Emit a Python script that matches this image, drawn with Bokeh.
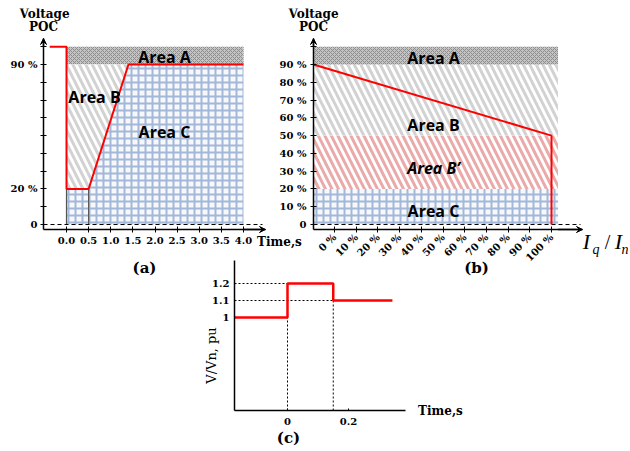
import math
from bokeh.plotting import figure
from bokeh.models import Label, Arrow, VeeHead, Range1d, FixedTicker
from bokeh.layouts import column
from bokeh.embed import file_html
from bokeh.resources import INLINE

# ---------------- data: panel (a) ----------------
a_time = [-0.38, 0.0, 0.0, 0.5, 1.4, 4.0]
a_volt = [100, 100, 20, 20, 90, 90]
a_end = 4.0
a_levels = [0, 20, 90, 100]
a_xticks = [0.0, 0.5, 1.0, 1.5, 2.0, 2.5, 3.0, 3.5, 4.0]
a_xlabels = ["0.0", "0.5", "1.0", "1.5", "2.0", "2.5", "3.0", "3.5", "4.0"]
a_yticks = [0, 10, 20, 30, 40, 50, 60, 70, 80, 90, 100]
a_ylabels = ["0", "", "20 %", "", "", "", "", "", "", "90 %", ""]

# ---------------- data: panel (b) ----------------
b_iq = [-9.7, 100, 100]
b_volt = [90, 50, 0]
b_end = 103
b_bands = [0, 20, 50, 90, 100]
b_xticks = [0, 10, 20, 30, 40, 50, 60, 70, 80, 90, 100]
b_xlabels = ["0 %", "10 %", "20 %", "30 %", "40 %", "50 %", "60 %", "70 %", "80 %", "90 %", "100 %"]
b_yticks = [0, 10, 20, 30, 40, 50, 60, 70, 80, 90, 100]
b_ylabels = ["0", "10 %", "20 %", "30 %", "40 %", "50 %", "60 %", "70 %", "80 %", "90 %", ""]

# ---------------- data: panel (c) ----------------
c_time = [-0.174, 0.0, 0.0, 0.15, 0.15, 0.344]
c_volt = [1.0, 1.0, 1.2, 1.2, 1.1, 1.1]
c_steps = [0.0, 0.15]
c_levels = [1.2, 1.1]
c_yticks = [1.0, 1.1, 1.2]
c_ylabels = ["1", "1.1", "1.2"]
c_xticks = [0.0, 0.2]
c_xlabels = ["0", "0.2"]

SERIF = "DejaVu Serif"
SANS = "Open Sans"
RED = "#ff0000"
GRID_BLUE = "#a3b7d8"


class Panel:
    """Maps window pixels to data units for a canvas whose frame fills the whole canvas."""

    def __init__(self, cx, cy, cw, ch, x0px, xppu, y0px, yppu):
        self.cx, self.cy, self.cw, self.ch = cx, cy, cw, ch
        self.x0px, self.xppu, self.y0px, self.yppu = x0px, xppu, y0px, yppu
        self.xr = ((cx - x0px) / xppu, (cx + cw - x0px) / xppu)
        self.yr = ((y0px - (cy + ch)) / yppu, (y0px - cy) / yppu)

    def x(self, px):
        return (px - self.x0px) / self.xppu

    def y(self, py):
        return (self.y0px - py) / self.yppu


def make_fig(P, margin):
    p = figure(x_range=Range1d(*P.xr), y_range=Range1d(*P.yr), width=P.cw, height=P.ch,
               min_border=0, output_backend="svg", toolbar_location=None, margin=margin)
    p.background_fill_alpha = 0
    p.border_fill_alpha = 0
    p.outline_line_color = None
    p.grid.visible = False
    for ax in (p.xaxis[0], p.yaxis[0]):
        ax.axis_line_width = 1.5
        ax.axis_line_color = "black"
        ax.major_tick_line_color = "black"
        ax.major_tick_line_width = 1
        ax.minor_tick_line_color = None
        ax.major_label_text_font = SERIF
        ax.major_label_text_font_style = "bold"
        ax.major_label_text_font_size = "10px"
        ax.major_label_text_color = "black"
    return p


def place_axes(p, x_loc, y_loc, x_bounds, y_bounds):
    p.xaxis[0].fixed_location = y_loc
    p.xaxis[0].bounds = x_bounds
    p.yaxis[0].fixed_location = x_loc
    p.yaxis[0].bounds = y_bounds


def set_ticks(axis, ticks, labels):
    axis.ticker = FixedTicker(ticks=ticks)
    axis.major_label_overrides = {t: s for t, s in zip(ticks, labels)}


def text(p, P, px, py, s, size, font=SERIF, style="bold", align="center", angle=0.0):
    p.add_layout(Label(x=P.x(px), y=P.y(py), text=s, text_font=font, text_font_style=style,
                       text_font_size=f"{size}px", text_align=align, text_baseline="middle",
                       text_color="black", angle=angle))


def arrows(p, x_loc, y_loc, x_top, y_top, x_from, y_from):
    p.add_layout(Arrow(end=VeeHead(size=6, line_color="black", fill_color="black", line_width=1),
                       x_start=x_loc, y_start=y_from, x_end=x_loc, y_end=y_top,
                       line_width=1.5, line_color="black"))
    p.add_layout(Arrow(end=VeeHead(size=6, line_color="black", fill_color="black", line_width=1),
                       x_start=x_from, y_start=y_loc, x_end=x_top, y_end=y_loc,
                       line_width=1.5, line_color="black"))


# canvases are placed in window pixels; the column itself starts at the window corner
PA = Panel(8, 8, 297, 272, 66, 44.25, 224, 1.778)
PB = Panel(270, 8, 358, 272, 334, 2.17, 224, 1.778)
PC = Panel(195, 255, 275, 193, 287, 305, 487, 170)

# ================= panel (a) =================
pa = make_fig(PA, (PA.cy, 0, 0, PA.cx))
ax_x, ax_y = PA.x(43), PA.y(229)          # where the axes cross
ax_xend, ax_ytop = PA.x(265), PA.y(38)    # arrow tips
place_axes(pa, ax_x, ax_y, (ax_x, ax_xend), (ax_y, ax_ytop))
lo, fault, rec, top = a_levels
t_fault, t_clear, t_rec = a_time[1], a_time[3], a_time[4]
# Area A
pa.patch([t_fault, a_end, a_end, t_fault], [rec, rec, top, top], fill_color="#c4c4c4",
         line_color=None, hatch_pattern="diagonal_cross", hatch_color="#8c8c8c",
         hatch_scale=4, hatch_weight=1)
# Area B
pa.patch([t_fault, t_clear, t_rec, t_fault], [fault, fault, rec, rec], fill_color="white",
         line_color=None, hatch_pattern="left_diagonal_line", hatch_color="#d2d2d2",
         hatch_scale=13, hatch_weight=3)
# Area C
pa.patch([t_fault, a_end, a_end, t_rec, t_clear, t_fault], [lo, lo, rec, rec, fault, fault],
         fill_color="#f6f8fc", line_color=None, hatch_pattern="cross", hatch_color=GRID_BLUE,
         hatch_scale=7, hatch_weight=2)
pa.segment(x0=[t_fault, t_clear], y0=[lo, lo], x1=[t_fault, t_clear], y1=[fault, fault],
           line_color="#555555", line_width=1.2)
pa.segment(x0=[ax_x], y0=[lo], x1=[PA.x(262)], y1=[lo], line_color="black", line_dash="4 3", line_width=1.2)
pa.line(a_time, a_volt, line_color=RED, line_width=2)
set_ticks(pa.xaxis[0], a_xticks, a_xlabels)
set_ticks(pa.yaxis[0], a_yticks, a_ylabels)
pa.xaxis[0].major_tick_in = 3
pa.xaxis[0].major_tick_out = 3
pa.yaxis[0].major_tick_in = 3
pa.yaxis[0].major_tick_out = 3
pa.yaxis[0].major_label_standoff = 3
pa.xaxis[0].major_label_standoff = 4
arrows(pa, ax_x, ax_y, ax_xend, ax_ytop, a_end, top)
text(pa, PA, 164, 56, "Area A", 16, font=SANS)
text(pa, PA, 94, 96, "Area B", 16, font=SANS)
text(pa, PA, 164, 131, "Area C", 16, font=SANS)
text(pa, PA, 44, 13, "Voltage", 12)
text(pa, PA, 43, 26, "POC", 12)
text(pa, PA, 279, 241, "Time,s", 12)
text(pa, PA, 144, 267, "(a)", 15)

# ================= panel (b) =================
pb = make_fig(PB, (PB.cy - (PA.cy + PA.ch), 0, 0, PB.cx))
bx_x, bx_y = PB.x(313), PB.y(229)
bx_xend, bx_ytop = PB.x(582), PB.y(38)
place_axes(pb, bx_x, bx_y, (bx_x, bx_xend), (bx_y, bx_ytop))
band_styles = [
    dict(fill_color="#f6f8fc", hatch_pattern="cross", hatch_color=GRID_BLUE, hatch_scale=7, hatch_weight=2),
    dict(fill_color="white", hatch_pattern="left_diagonal_line", hatch_color="#eaaaaa", hatch_scale=13, hatch_weight=3),
    dict(fill_color="white", hatch_pattern="left_diagonal_line", hatch_color="#d2d2d2", hatch_scale=13, hatch_weight=3),
    dict(fill_color="#c4c4c4", hatch_pattern="diagonal_cross", hatch_color="#8c8c8c", hatch_scale=4, hatch_weight=1),
]
for lo_b, hi_b, st in zip(b_bands[:-1], b_bands[1:], band_styles):
    pb.patch([bx_x, b_end, b_end, bx_x], [lo_b, lo_b, hi_b, hi_b], line_color=None, **st)
pb.segment(x0=[bx_x], y0=[b_bands[0]], x1=[PB.x(580)], y1=[b_bands[0]], line_color="black",
           line_dash="4 3", line_width=1.2)
pb.line(b_iq, b_volt, line_color=RED, line_width=2)
set_ticks(pb.xaxis[0], b_xticks, b_xlabels)
set_ticks(pb.yaxis[0], b_yticks, b_ylabels)
pb.xaxis[0].major_label_orientation = math.pi / 4
pb.xaxis[0].major_tick_in = 3
pb.xaxis[0].major_tick_out = 3
pb.yaxis[0].major_tick_in = 3
pb.yaxis[0].major_tick_out = 3
pb.yaxis[0].major_label_standoff = 4
pb.xaxis[0].major_label_standoff = 3
arrows(pb, bx_x, bx_y, bx_xend, bx_ytop, b_end, b_bands[-1])
text(pb, PB, 433, 57, "Area A", 16, font=SANS)
text(pb, PB, 433, 124, "Area B", 16, font=SANS)
text(pb, PB, 433, 167, "Area B\u2019", 16, font=SANS, style="bold italic")
text(pb, PB, 433, 210, "Area C", 16, font=SANS)
text(pb, PB, 313, 13, "Voltage", 12)
text(pb, PB, 313, 26, "POC", 12)
text(pb, PB, 476, 267, "(b)", 15)
text(pb, PB, 586, 241, "I", 22, font="Liberation Serif", style="italic")
text(pb, PB, 592, 249, "q", 14, font="Liberation Serif", style="italic", align="left")
text(pb, PB, 607, 241, "/", 20, font="Liberation Serif", style="normal")
text(pb, PB, 618, 241, "I", 22, font="Liberation Serif", style="italic")
text(pb, PB, 621, 249, "n", 14, font="Liberation Serif", style="italic", align="left")

# ================= panel (c) =================
pc = make_fig(PC, (PC.cy - (PB.cy + PB.ch), 0, 0, PC.cx))
cx_x, cx_y = PC.x(234), PC.y(410)
cx_xend, cx_ytop = PC.x(405), PC.y(260)
place_axes(pc, cx_x, cx_y, (cx_x, cx_xend), (cx_y, cx_ytop))
# dotted guide lines
pc.segment(x0=[cx_x, cx_x], y0=c_levels, x1=c_steps, y1=c_levels,
           line_color="black", line_dash="2 2", line_width=1)
pc.segment(x0=c_steps, y0=[cx_y, cx_y], x1=c_steps, y1=[c_levels[0], c_levels[0]],
           line_color="black", line_dash="2 2", line_width=1)
pc.line(c_time, c_volt, line_color=RED, line_width=2.5)
set_ticks(pc.xaxis[0], c_xticks, c_xlabels)
set_ticks(pc.yaxis[0], c_yticks, c_ylabels)
pc.yaxis[0].major_tick_in = 0
pc.yaxis[0].major_tick_out = 0
pc.xaxis[0].major_tick_in = 2
pc.xaxis[0].major_tick_out = 0
pc.yaxis[0].major_label_standoff = 5
pc.xaxis[0].major_label_standoff = 7
text(pc, PC, 211, 355, "V/Vn, pu", 13, style="normal", angle=math.pi / 2)
text(pc, PC, 440, 410, "Time,s", 12)
text(pc, PC, 288, 437, "(c)", 15)

layout = column(pa, pb, pc)
open("out.html", "w").write(file_html(layout, INLINE))
